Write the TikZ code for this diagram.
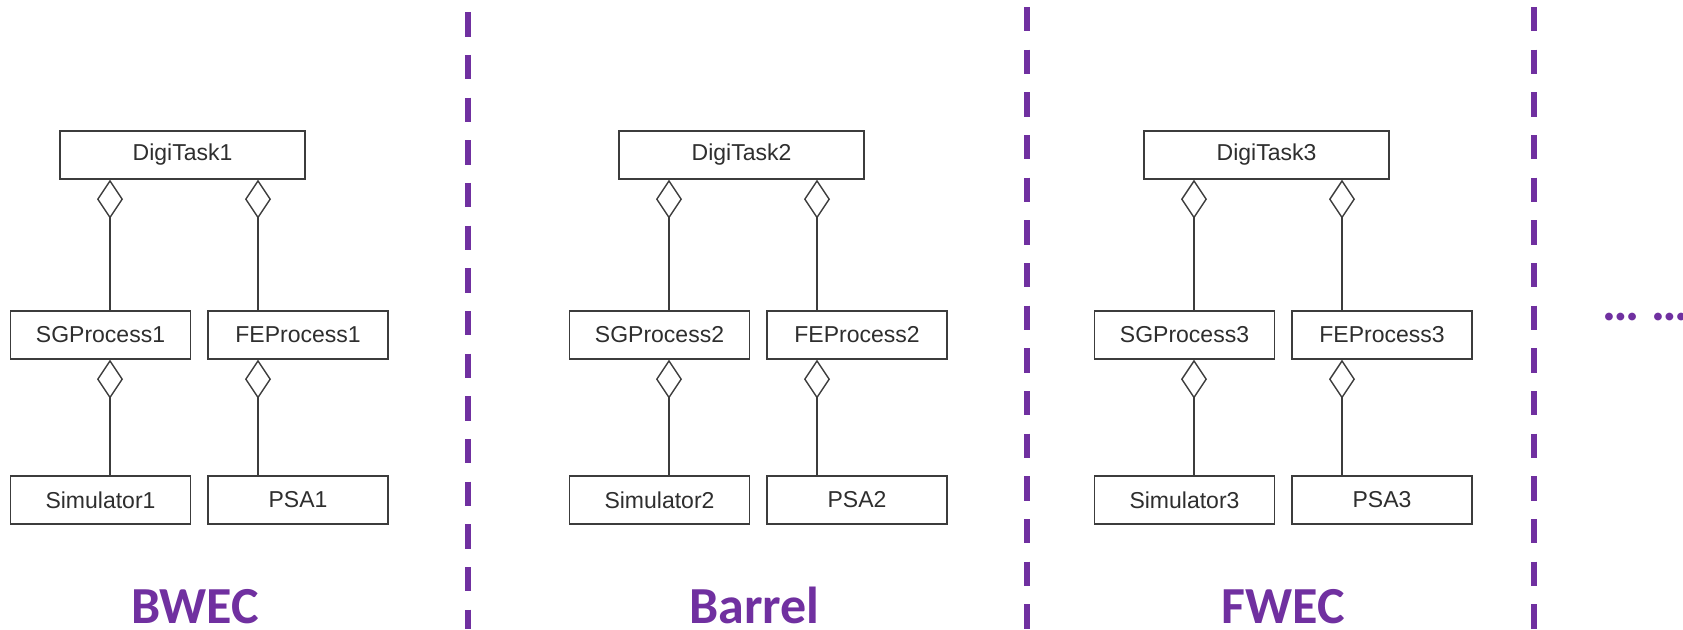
\documentclass[tikz,border=0pt]{standalone}
\usepackage{fontspec}
\setmainfont{Liberation Sans}
\newfontfamily\labelfont{Carlito}
\usetikzlibrary{arrows.meta}
\definecolor{divpurple}{HTML}{7030A0}
\definecolor{umlgray}{HTML}{3C3C3C}
\begin{document}
\begin{tikzpicture}[x=0.5pt,y=-0.5pt,
  umlbox/.style={draw=umlgray, line width=0.7pt, minimum width=90pt,
    minimum height=24pt, inner sep=0pt, text=black!82,
    font=\fontsize{11.5}{13}\selectfont},
  agg/.style={draw=umlgray, line width=0.7pt,
    {Diamond[open,length=19.5pt,width=13pt]}-},
  divider/.style={draw=divpurple, line width=3pt,
    dash pattern=on 12.2pt off 9.135pt},
  region/.style={text=divpurple, anchor=base, inner sep=0pt, text depth=0pt,
    font=\labelfont\bfseries\fontsize{26}{30}\selectfont}]
\useasboundingbox (0,0) rectangle (1683,629);
\fill[white] (0,0) rectangle (1683,629);

% one column of the class diagram per detector region
\foreach \o/\i in {0/1, 559/2, 1084/3}{
  \node[umlbox, minimum width=122.5pt] (dt\i) at (\o+182.5,155) {DigiTask\i};
  \node[umlbox] (sg\i)  at (\o+100.5,335) {SGProcess\i};
  \node[umlbox] (fe\i)  at (\o+298,335)   {FEProcess\i};
  \node[umlbox] (sim\i) at (\o+100.5,500) {Simulator\i};
  \node[umlbox] (psa\i) at (\o+298,500)   {PSA\i};
  \coordinate (ls\i) at (\o+110,0);
  \coordinate (rs\i) at (\o+258,0);
  \draw[agg] (dt\i.south -| ls\i) -- (sg\i.north -| ls\i);
  \draw[agg] (dt\i.south -| rs\i) -- (fe\i.north -| rs\i);
  \draw[agg] (sg\i.south -| ls\i) -- (sim\i.north -| ls\i);
  \draw[agg] (fe\i.south -| rs\i) -- (psa\i.north -| rs\i);
}

% region names
\node[region] (bwec)   at (195,623)   {BWEC};
\node[region] (barrel) at (754.5,623) {Barrel};
\node[region] (fwec)   at (1283,623)  {FWEC};
\node[region, anchor=base west] (more) at (1602,320) {… …};

% dashed separators between regions
\coordinate (d1t) at (468,0);  \coordinate (d1b) at (468,629);
\coordinate (d2t) at (1027,0); \coordinate (d2b) at (1027,629);
\coordinate (d3t) at (1534,0); \coordinate (d3b) at (1534,629);
\draw[divider, dash phase=15.185pt] (d1t) -- (d1b);
\draw[divider, dash phase=17.835pt] (d2t) -- (d2b);
\draw[divider, dash phase=17.835pt] (d3t) -- (d3b);
\end{tikzpicture}
\end{document}
